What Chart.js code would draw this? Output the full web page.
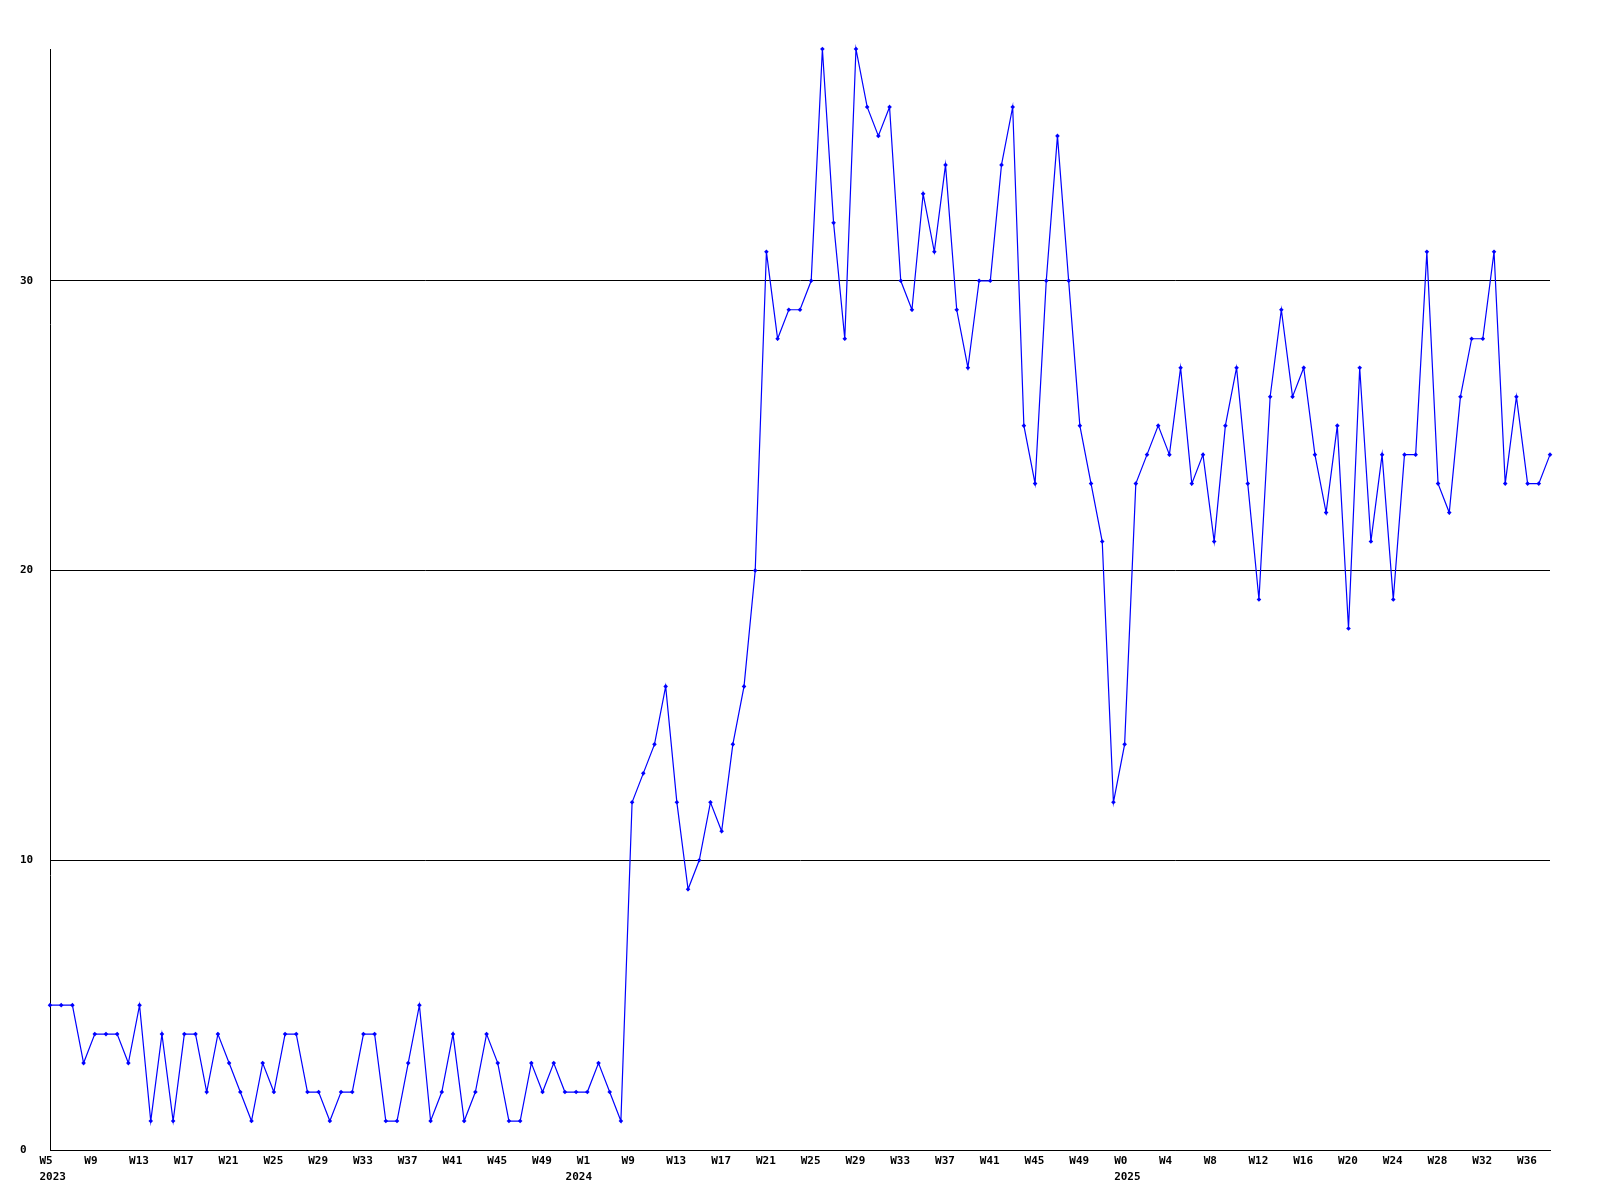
<!DOCTYPE html>
<html>
<head>
<meta charset="utf-8">
<script src="https://cdn.jsdelivr.net/npm/chart.js@4/dist/chart.umd.min.js"></script>
<style>
  html, body { margin: 0; padding: 0; background: #ffffff; }
  #wrap { width: 1600px; height: 1200px; }
</style>
</head>
<body>
<div id="wrap"><canvas id="c" width="1600" height="1200"></canvas></div>
<script>
// Tick labels shown every 4th weekly point
const tickWeeks = [
  'W5','W9','W13','W17','W21','W25','W29','W33','W37','W41','W45','W49',
  'W1','W9','W13','W17','W21','W25','W29','W33','W37','W41','W45','W49',
  'W0','W4','W8','W12','W16','W20','W24','W28','W32','W36'
];
// year labels and the weekly point (index) they sit under
const tickYears = ['2023', '2024', '2025'];
const tickYearIndex = [0, 47, 96];

// Weekly values
const values = [
  5,5,5,3,4,4,4,3,5,1,4,1,4,4,2,4,3,2,1,3,2,4,4,2,2,1,2,2,4,4,1,1,3,5,1,2,4,1,2,4,3,1,1,3,2,3,2,2,2,3,2,1,
  12,13,14,16,12,9,10,12,11,14,16,20,31,28,29,29,30,38,32,28,38,36,35,36,30,29,33,31,34,29,27,30,30,34,36,
  25,23,30,35,30,25,23,21,12,14,23,24,25,24,27,23,24,21,25,27,23,19,26,29,26,27,24,22,25,18,27,21,24,19,
  24,24,31,23,22,26,28,28,31,23,26,23,23,24
];

const yTicks = [0, 10, 20, 30];
const yMax = 38;

const categories = values.map((v, i) => {
  const w = (i % 4 === 0) ? (tickWeeks[i / 4] || '') : '';
  const yi = tickYearIndex.indexOf(i);
  return yi >= 0 ? [w, tickYears[yi]] : w;
});

const monoFont = { family: "'DejaVu Sans Mono', 'Liberation Mono', monospace", size: 11, weight: 'bold', lineHeight: '16px' };

new Chart(document.getElementById('c'), {
  type: 'line',
  data: {
    labels: categories,
    datasets: [{
      data: values,
      borderColor: '#0000ff',
      backgroundColor: '#0000ff',
      borderWidth: 1.2,
      tension: 0,
      pointStyle: 'rectRot',
      pointRadius: 2.3,
      pointBorderWidth: 0,
      pointBackgroundColor: '#0000ff',
      fill: false,
      clip: 6
    }]
  },
  options: {
    responsive: false,
    animation: false,
    devicePixelRatio: 1,
    layout: { padding: { top: 49, right: 50, left: 20, bottom: 0 } },
    plugins: { legend: { display: false }, tooltip: { enabled: false } },
    scales: {
      x: {
        type: 'category',
        offset: false,
        grid: { display: false, drawTicks: false },
        border: { display: true, color: '#000000', width: 1 },
        ticks: {
          autoSkip: false,
          maxRotation: 0,
          minRotation: 0,
          padding: 3,
          align: 'start',
          labelOffset: -10.5,
          color: '#000000',
          font: monoFont
        },
        afterFit: (s) => { s.height = 50; }
      },
      y: {
        min: 0,
        max: yMax,
        grid: { display: true, color: '#000000', lineWidth: 1, drawTicks: false },
        border: { display: true, color: '#000000', width: 1 },
        ticks: {
          padding: 16,
          crossAlign: 'far',
          color: '#000000',
          font: monoFont
        },
        afterBuildTicks: (s) => { s.ticks = yTicks.map(v => ({ value: v })); },
        afterFit: (s) => { s.width = 30; }
      }
    }
  }
});
</script>
</body>
</html>
